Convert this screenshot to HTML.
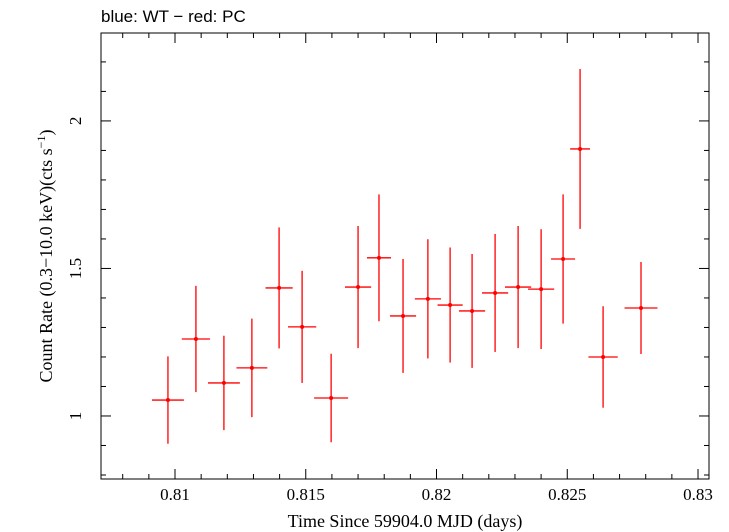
<!DOCTYPE html>
<html><head><meta charset="utf-8"><style>
body{margin:0;background:#fff}
svg{display:block;font-family:"Liberation Serif",serif}
</style></head><body>
<svg id="chart" width="729" height="532">
<text x="101" y="22" font-size="17" font-family="Liberation Sans, sans-serif">blue: WT − red: PC</text>
<rect x="101" y="33" width="608" height="446" fill="none" stroke="#000" stroke-width="1"/>
<g id="ticks"></g>
<g id="marks"></g>
<text x="405" y="527" font-size="18" text-anchor="middle">Time Since 59904.0 MJD (days)</text>
<text transform="translate(52,256) rotate(-90)" font-size="18" text-anchor="middle">Count Rate (0.3−10.0 keV)(cts s<tspan dy="-7" font-size="12">−1</tspan><tspan dy="7">)</tspan></text>
</svg>
<script>
const times=[0.80973,0.81080,0.81187,0.81294,0.81398,0.81486,0.81597,0.81700,0.81780,0.81872,0.81967,0.82052,0.82136,0.82224,0.82312,0.82400,0.82484,0.82549,0.82637,0.82782];
const timeErr=[0.00061,0.00054,0.00061,0.00059,0.00052,0.00054,0.00065,0.00050,0.00046,0.00050,0.00050,0.00048,0.00050,0.00050,0.00050,0.00050,0.00046,0.00038,0.00056,0.00063];
const rates=[1.054,1.261,1.112,1.163,1.434,1.302,1.061,1.437,1.536,1.339,1.397,1.376,1.356,1.417,1.437,1.430,1.532,1.905,1.200,1.366];
const rateErr=[0.148,0.18,0.16,0.167,0.205,0.19,0.15,0.207,0.215,0.193,0.202,0.195,0.193,0.20,0.207,0.203,0.219,0.271,0.172,0.156];
const xTicks=[0.81,0.815,0.82,0.825,0.83];
const xTickLabels=["0.81","0.815","0.82","0.825","0.83"];
const yTicks=[1,1.5,2];
const yTickLabels=["1","1.5","2"];
const X0=0.80717,X1=0.83042,Y0=0.7864,Y1=2.298;
const L=101,R=709,T=33,B=479;
const sx=v=>L+(v-X0)/(X1-X0)*(R-L);
const sy=v=>B-(v-Y0)/(Y1-Y0)*(B-T);
const NS="http://www.w3.org/2000/svg";
function mk(tag,attrs,parent){const e=document.createElementNS(NS,tag);for(const k in attrs)e.setAttribute(k,attrs[k]);parent.appendChild(e);return e;}
const tg=document.getElementById('ticks');
// minor x ticks
for(let i=0;i<=24;i++){const v=0.808+i*0.001;if(v<X0||v>X1)continue;const x=sx(v);const maj=xTicks.some(t=>Math.abs(t-v)<1e-7);const len=maj?10:5;
 const a=mk('line',{x1:x,x2:x,y1:B,y2:B-len,stroke:'#000'},tg);
 
 
 const b=mk('line',{x1:x,x2:x,y1:T,y2:T+len,stroke:'#000'},tg);
 
 }
for(let i=0;i<=16;i++){const v=0.8+i*0.1;if(v<Y0||v>Y1)continue;const y=sy(v);const maj=yTicks.some(t=>Math.abs(t-v)<1e-7);const len=maj?10:5;
 const a=mk('line',{x1:L,x2:L+len,y1:y,y2:y,stroke:'#000'},tg);
 
 
 const b=mk('line',{x1:R,x2:R-len,y1:y,y2:y,stroke:'#000'},tg);
 
 }
xTicks.forEach((v,i)=>{const t=mk('text',{x:sx(v),y:B+21,'font-size':17,'text-anchor':'middle'},tg);t.textContent=xTickLabels[i];
 
 });
yTicks.forEach((v,i)=>{const t=mk('text',{transform:`translate(${L-20},${sy(v)}) rotate(-90)`,'font-size':17,'text-anchor':'middle'},tg);t.textContent=yTickLabels[i];
 
 });
const mg=document.getElementById('marks');
times.forEach((t,i)=>{const g=mk('g',{},mg);
 
 
 mk('line',{x1:sx(t-timeErr[i]),x2:sx(t+timeErr[i]),y1:sy(rates[i]),y2:sy(rates[i]),stroke:'#f00','stroke-width':1.3},g);
 mk('line',{x1:sx(t),x2:sx(t),y1:sy(rates[i]-rateErr[i]),y2:sy(rates[i]+rateErr[i]),stroke:'#f00','stroke-width':1.3},g);
 mk('circle',{cx:sx(t),cy:sy(rates[i]),r:2,fill:'#f00'},g);});
</script>
</body></html>
